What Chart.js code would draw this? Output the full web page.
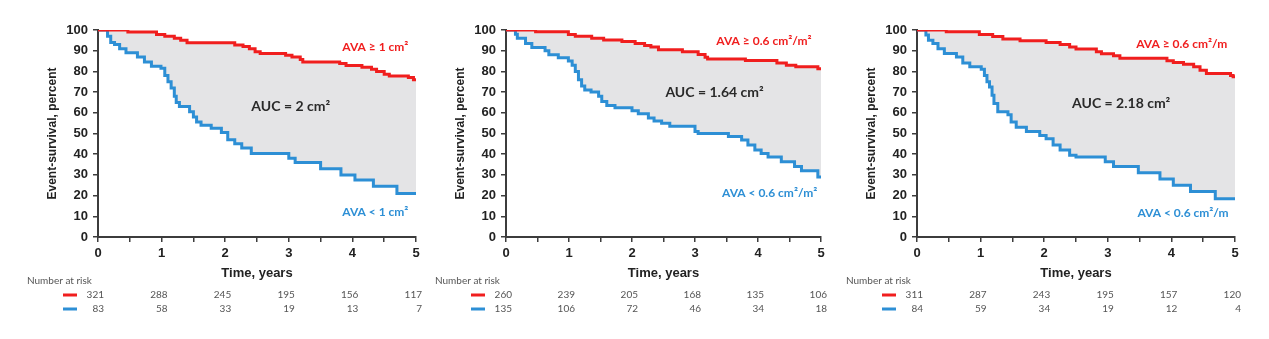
<!DOCTYPE html>
<html>
<head>
<meta charset="utf-8">
<script src="https://cdn.jsdelivr.net/npm/chart.js@4"></script>
<style>
  body { margin: 0; background: #fff; }
  #wrap { position: relative; width: 1269px; height: 339px; }
  canvas { position: absolute; top: 0; }
</style>
</head>
<body>
<div id="wrap">
  <canvas id="c1" width="425" height="339" style="left:0px"></canvas>
  <canvas id="c2" width="422" height="339" style="left:408px"></canvas>
  <canvas id="c3" width="425" height="339" style="left:819px"></canvas>
</div>
<script>
// Kaplan-Meier curves: [time in years, survival %]
const aRed = [[0,100],[0.47,99],[0.92,97.8],[1.05,97],[1.2,96],[1.3,95],[1.4,93.8],[2.15,92.8],[2.28,92],[2.38,91],[2.47,89.5],[2.55,88.7],[2.95,87.8],[3.05,87],[3.18,85.8],[3.22,84.5],[3.8,83.8],[3.9,82.8],[4.15,82],[4.3,81],[4.38,80],[4.5,78.6],[4.58,77.8],[4.88,77],[4.96,76],[5,76]];
const aBlue = [[0,100],[0.15,97],[0.2,94],[0.26,93],[0.34,91],[0.44,89],[0.62,87],[0.73,84.5],[0.84,82.5],[0.99,81.5],[1.05,78],[1.1,75],[1.15,72],[1.2,68],[1.23,65],[1.28,63],[1.44,60.5],[1.5,58],[1.55,55.5],[1.62,54],[1.78,52.5],[1.94,50.5],[2.04,47],[2.15,45],[2.26,43],[2.41,40.3],[3.0,38],[3.1,36],[3.5,33],[3.82,30],[4.04,27.5],[4.33,24.5],[4.7,21],[5,21]];

const bRed = [[0,100],[0.47,99.2],[0.99,97.8],[1.1,97],[1.36,96],[1.55,95.2],[1.84,94.5],[2.05,93.5],[2.2,92.5],[2.3,91.8],[2.42,90.5],[2.8,89.5],[3.05,88.2],[3.16,86.8],[3.2,86],[3.8,85.3],[4.3,84],[4.45,83],[4.6,82.3],[4.95,81.3],[5,81]];
const bBlue = [[0,100],[0.15,98],[0.18,96],[0.31,93.5],[0.41,91.5],[0.62,90],[0.68,88],[0.83,86.6],[0.99,85],[1.05,83],[1.1,80],[1.15,76],[1.2,73],[1.25,71],[1.35,70],[1.47,68],[1.52,65.5],[1.6,63.5],[1.73,62.5],[2.0,61],[2.1,59.5],[2.26,57.5],[2.35,56],[2.47,55],[2.6,53.5],[3.0,51],[3.05,50],[3.53,48.5],[3.74,46.8],[3.84,44.5],[3.95,42],[4.05,40.3],[4.16,38.7],[4.37,36.3],[4.58,34],[4.69,32],[4.95,29],[5,28.5]];

const cRed = [[0,100],[0.46,99.2],[0.98,97.8],[1.19,96.8],[1.35,95.6],[1.62,94.8],[2.03,94],[2.25,93],[2.4,91.8],[2.5,90.8],[2.82,89.5],[2.9,88.5],[3.09,87.6],[3.19,86.3],[3.93,85.2],[4.03,84.3],[4.19,83.4],[4.35,82.3],[4.45,80.6],[4.55,79],[4.93,78],[4.97,77.4],[5,77.4]];
const cBlue = [[0,100],[0.14,97.6],[0.18,95],[0.25,93.5],[0.33,91],[0.43,88.7],[0.62,87],[0.72,84],[0.83,82.3],[1.01,81],[1.06,78],[1.1,75],[1.14,72.5],[1.18,68.5],[1.21,64.5],[1.27,60.5],[1.43,59],[1.48,55.6],[1.56,53],[1.72,51],[1.93,49],[2.03,47.5],[2.14,44.5],[2.25,42],[2.4,39.5],[2.5,38.7],[2.96,36.3],[3.09,34],[3.48,31],[3.82,28],[4.03,25],[4.3,22],[4.69,18.5],[5,18.5]];

// number at risk
const riskTimes = [0, 1, 2, 3, 4, 5];
const aRiskRed = [321, 288, 245, 195, 156, 117];
const aRiskBlue = [83, 58, 33, 19, 13, 7];
const bRiskRed = [260, 239, 205, 168, 135, 106];
const bRiskBlue = [135, 106, 72, 46, 34, 18];
const cRiskRed = [311, 287, 243, 195, 157, 120];
const cRiskBlue = [84, 59, 34, 19, 12, 4];

// labels inside the plots
const aLabels = ['AVA ≥ 1 cm²', 'AVA < 1 cm²', 'AUC = 2 cm²'];
const bLabels = ['AVA ≥ 0.6 cm²/m²', 'AVA < 0.6 cm²/m²', 'AUC = 1.64 cm²'];
const cLabels = ['AVA ≥ 0.6 cm²/m', 'AVA < 0.6 cm²/m', 'AUC = 2.18 cm²'];

const RED = '#f01e1e';
const BLUE = '#2d8fd5';
const AXIS = '#3c3c3c';

Chart.defaults.font.family = '"Liberation Sans", Arial, sans-serif';

function toPoints(arr) {
  return arr.map(p => ({ x: p[0], y: p[1] }));
}

// places: [x,y] in data units for red label, blue label, AUC label
function makeChart(id, red, blue, labels, places, riskRed, riskBlue) {
  const notes = {
    id: 'notes',
    afterDatasetsDraw(chart) {
      const ctx = chart.ctx, sx = chart.scales.x, sy = chart.scales.y;
      ctx.save();
      ctx.textBaseline = 'middle';
      const styles = [
        { color: RED, font: 'bold 12px Lato', align: 'right' },
        { color: BLUE, font: 'bold 12px Lato', align: 'right' },
        { color: '#2a2a2a', font: 'bold 14px Lato', align: 'center' }
      ];
      labels.forEach((t, i) => {
        ctx.font = styles[i].font;
        ctx.fillStyle = styles[i].color;
        ctx.textAlign = styles[i].align;
        ctx.fillText(t, sx.getPixelForValue(places[i][0]), sy.getPixelForValue(places[i][1]));
      });
      ctx.restore();
    }
  };

  const riskTable = {
    id: 'riskTable',
    afterDraw(chart) {
      const ctx = chart.ctx, sx = chart.scales.x, area = chart.chartArea;
      ctx.save();
      ctx.font = '10px Lato';
      ctx.fillStyle = '#555';
      ctx.textBaseline = 'middle';
      ctx.textAlign = 'left';
      ctx.fillText('Number at risk', area.left - 71, area.bottom + 44);
      [[RED, riskRed], [BLUE, riskBlue]].forEach((row, r) => {
        const y = area.bottom + 58 + r * 14;
        ctx.strokeStyle = row[0];
        ctx.lineWidth = 3;
        ctx.beginPath();
        ctx.moveTo(area.left - 35, y);
        ctx.lineTo(area.left - 21, y);
        ctx.stroke();
        ctx.textAlign = 'right';
        row[1].forEach((v, i) => {
          ctx.fillText(String(v), sx.getPixelForValue(riskTimes[i]) + 6, y);
        });
      });
      ctx.restore();
    }
  };

  const tickFont = { size: 13, weight: 'bold' };

  return new Chart(document.getElementById(id), {
    type: 'line',
    data: {
      datasets: [{
        data: toPoints(red),
        borderColor: RED,
        borderWidth: 3,
        pointRadius: 0,
        stepped: true,
        fill: '+1',
        backgroundColor: '#e4e4e6'
      }, {
        data: toPoints(blue),
        borderColor: BLUE,
        borderWidth: 3,
        pointRadius: 0,
        stepped: true,
        fill: false
      }]
    },
    options: {
      responsive: false,
      animation: false,
      layout: { padding: { top: 30, right: 9, bottom: 57, left: 0 } },
      plugins: {
        legend: { display: false },
        tooltip: { enabled: false },
        filler: { drawTime: 'beforeDatasetsDraw' }
      },
      scales: {
        x: {
          type: 'linear',
          min: 0,
          max: 5,
          ticks: {
            stepSize: 0.5,
            autoSkip: false,
            maxRotation: 0,
            padding: 4,
            color: '#222',
            font: tickFont,
            callback: v => Number.isInteger(v) ? v : ''
          },
          grid: { drawOnChartArea: false, drawTicks: true, tickLength: 5, color: AXIS, lineWidth: 1.5 },
          border: { color: AXIS, width: 2 },
          title: {
            display: true,
            text: 'Time, years',
            color: '#222',
            font: { size: 13, weight: 'bold' },
            padding: { top: 0, bottom: 1 }
          },
          afterFit: s => { s.height = 45; }
        },
        y: {
          min: 0,
          max: 100,
          ticks: { stepSize: 10, padding: 5, color: '#222', font: tickFont },
          grid: { drawOnChartArea: false, drawTicks: true, tickLength: 5, color: AXIS, lineWidth: 1.5 },
          border: { color: AXIS, width: 2 },
          title: {
            display: true,
            text: 'Event-survival, percent',
            color: '#222',
            font: { size: 12, weight: 'bold' },
            padding: { top: 45, bottom: 0 }
          },
          afterFit: s => { s.width = 98; }
        }
      }
    },
    plugins: [notes, riskTable]
  });
}

makeChart('c1', aRed, aBlue, aLabels, [[4.88, 91.5], [4.88, 12], [3.03, 63]], aRiskRed, aRiskBlue);
makeChart('c2', bRed, bBlue, bLabels, [[4.85, 94.5], [4.94, 21], [3.31, 70]], bRiskRed, bRiskBlue);
makeChart('c3', cRed, cBlue, cLabels, [[4.88, 93], [4.9, 11.5], [3.21, 64.5]], cRiskRed, cRiskBlue);
</script>
</body>
</html>
